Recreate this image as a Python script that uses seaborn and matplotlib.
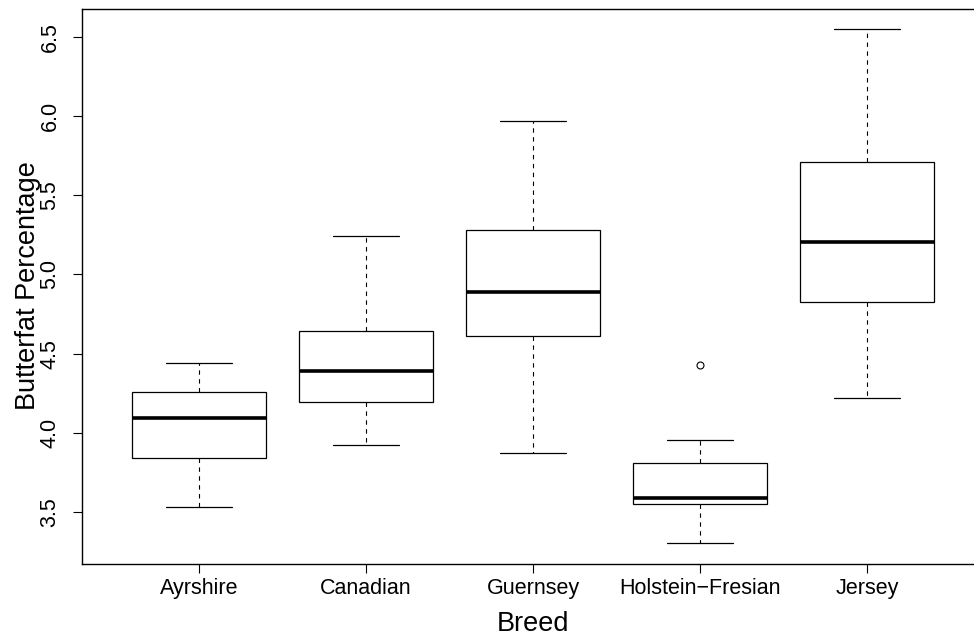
import matplotlib
matplotlib.use("Agg")
import matplotlib.pyplot as plt
import seaborn as sns
import pandas as pd

breeds = ["Ayrshire", "Canadian", "Guernsey", "Holstein\u2212Fresian", "Jersey"]
ayrshire = [3.533, 3.843, 4.092, 4.259, 4.441]
canadian = [3.921, 4.193, 4.390, 4.641, 5.242]
guernsey = [3.874, 4.608, 4.891, 5.282, 5.971]
holstein = [3.304, 3.549, 3.549, 3.570, 3.588, 3.700, 3.811, 3.955, 4.428]
jersey = [4.222, 4.826, 5.206, 5.710, 6.549]
yticks = [3.5, 4.0, 4.5, 5.0, 5.5, 6.0, 6.5]

series = [ayrshire, canadian, guernsey, holstein, jersey]
rows = []
for b, vals in zip(breeds, series):
    for v in vals:
        rows.append({"Breed": b, "Butterfat": v})
df = pd.DataFrame(rows)

sns.set_theme(style="white")
plt.rcParams["font.family"] = ["Liberation Sans", "DejaVu Sans"]

fig = plt.figure(figsize=(9.74, 6.42), dpi=100)
ax = fig.add_axes([82 / 974, 1 - 563.5 / 642, (984 - 82) / 974, (563.5 - 8.5) / 642])

sns.boxplot(
    data=df, x="Breed", y="Butterfat", order=breeds, ax=ax,
    color="white", linecolor="black", saturation=1, width=0.8,
    linewidth=0.9,
    boxprops=dict(edgecolor="black", linewidth=0.9),
    medianprops=dict(color="black", linewidth=2.6),
    whiskerprops=dict(color="black", linewidth=0.8, linestyle=(0, (4, 4))),
    capprops=dict(color="black", linewidth=0.9),
    flierprops=dict(marker="o", markerfacecolor="none", markeredgecolor="black",
                    markersize=5, markeredgewidth=0.8),
)

ax.set_xlim(-0.7, 4.7)
ax.set_ylim(3.175, 6.678)
ax.set_yticks(yticks)
ax.set_yticklabels([f"{t:.1f}" for t in yticks])
for lab in ax.get_yticklabels():
    lab.set_rotation(90)
    lab.set_va("center")

for s in ax.spines.values():
    s.set_visible(True)
    s.set_color("black")
    s.set_linewidth(1.0)

ax.tick_params(axis="both", which="major", direction="out", length=6.5, width=0.8,
               color="black", labelsize=15.5, labelcolor="black", left=True, bottom=True)
ax.tick_params(axis="y", pad=9)
ax.tick_params(axis="x", pad=4)

ax.set_xlabel("Breed", fontsize=19.5, labelpad=8.5, color="black")
ax.set_ylabel("Butterfat Percentage", fontsize=19.5, labelpad=-1, color="black")
ax.grid(False)

fig.savefig("out.png", dpi=100, facecolor="white")
